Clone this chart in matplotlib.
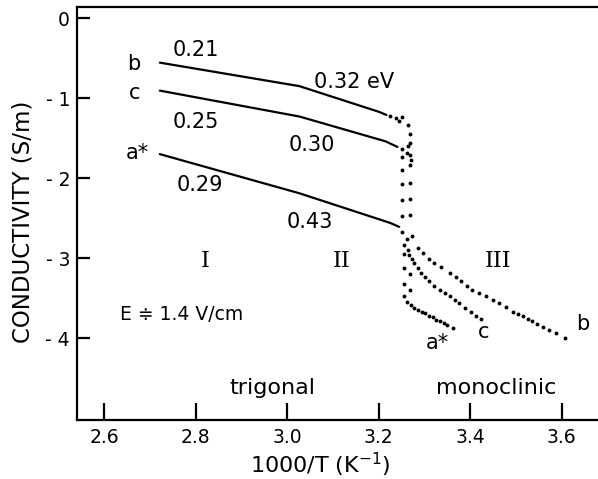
import matplotlib
matplotlib.use("Agg")
import matplotlib.pyplot as plt

plt.rcParams['font.family'] = ['DejaVu Sans']

# Solid parts (trigonal phases I and II)
b_line_x = [2.722, 3.027, 3.200, 3.217]
b_line_y = [-0.556, -0.85, -1.17, -1.21]
c_line_x = [2.722, 3.027, 3.215, 3.241]
c_line_y = [-0.906, -1.23, -1.54, -1.61]
a_line_x = [2.722, 3.027, 3.225, 3.245]
a_line_y = [-1.70, -2.19, -2.56, -2.61]

# Dotted parts (transition and monoclinic phase III)
b_dot_x = [3.225, 3.237, 3.252, 3.244, 3.265, 3.269, 3.269, 3.269, 3.269, 3.269, 3.269,
           3.269, 3.273, 3.285, 3.296, 3.309, 3.322, 3.336, 3.355, 3.368, 3.380, 3.393,
           3.405, 3.420, 3.435, 3.449, 3.464, 3.478, 3.493, 3.504, 3.515, 3.526, 3.536,
           3.547, 3.558, 3.572, 3.587, 3.608]
b_dot_y = [-1.22, -1.25, -1.24, -1.29, -1.33, -1.45, -1.56, -1.71, -1.83, -2.06, -2.26,
           -2.46, -2.73, -2.88, -2.94, -3.01, -3.06, -3.11, -3.19, -3.24, -3.29, -3.35,
           -3.40, -3.44, -3.48, -3.52, -3.56, -3.61, -3.67, -3.70, -3.73, -3.76, -3.79,
           -3.82, -3.86, -3.90, -3.94, -4.00]
c_dot_x = [3.252, 3.265, 3.262, 3.252, 3.270, 3.252, 3.252, 3.252, 3.252, 3.256, 3.264,
           3.267, 3.272, 3.278, 3.285, 3.293, 3.302, 3.311, 3.322, 3.333, 3.344, 3.355,
           3.366, 3.376, 3.389, 3.402, 3.413, 3.424]
c_dot_y = [-1.64, -1.60, -1.69, -1.73, -1.77, -1.90, -2.07, -2.27, -2.47, -2.84, -2.90,
           -2.96, -3.01, -3.06, -3.13, -3.19, -3.24, -3.29, -3.35, -3.40, -3.44, -3.48,
           -3.52, -3.56, -3.62, -3.67, -3.72, -3.76]
a_dot_x = [3.252, 3.262, 3.256, 3.255, 3.268, 3.255, 3.268, 3.255, 3.262, 3.270, 3.278,
           3.286, 3.294, 3.302, 3.310, 3.318, 3.326, 3.334, 3.342, 3.350, 3.362]
a_dot_y = [-2.68, -2.76, -2.95, -3.12, -3.20, -3.33, -3.40, -3.48, -3.55, -3.59, -3.62,
           -3.65, -3.67, -3.69, -3.72, -3.74, -3.77, -3.79, -3.81, -3.84, -3.88]

x_ticks = [2.6, 2.8, 3.0, 3.2, 3.4, 3.6]
x_ticklabels = ["2.6", "2.8", "3.0", "3.2", "3.4", "3.6"]
y_ticks = [0, -1, -2, -3, -4]
y_ticklabels = ["0", "- 1", "- 2", "- 3", "- 4"]

fig = plt.figure(figsize=(5.98, 4.79), dpi=100)
ax = fig.add_axes([0.1288, 0.1232, 0.8812, 0.8622])
ax.set_xlim(2.541, 3.676 + 0.0125 * (1.135 / 0.8712))
ax.set_ylim(-5.025, 0.14)

for xs, ys in [(b_line_x, b_line_y), (c_line_x, c_line_y), (a_line_x, a_line_y)]:
    ax.plot(xs, ys, color='black', lw=1.6, solid_capstyle='round')
for xs, ys in [(b_dot_x, b_dot_y), (c_dot_x, c_dot_y), (a_dot_x, a_dot_y)]:
    ax.plot(xs, ys, 'o', color='black', ms=2.8, mec='none')

for s in ['left', 'top', 'bottom']:
    ax.spines[s].set_linewidth(1.6)
ax.spines['right'].set_visible(False)

ax.set_xticks(x_ticks)
ax.set_xticklabels(x_ticklabels)
ax.set_yticks(y_ticks)
ax.set_yticklabels(y_ticklabels)
ax.tick_params(axis='x', direction='in', length=12, width=1.6, labelsize=13.5, pad=6)
ax.tick_params(axis='y', direction='in', length=9, width=1.6, labelsize=13.5, pad=5)

ax.set_xlabel("1000/T (K$^{-1}$)", fontsize=16)
ax.set_ylabel("CONDUCTIVITY (S/m)", fontsize=16.5)
ax.xaxis.set_label_coords(0.461, -0.109)
ax.yaxis.set_label_coords(-0.102, 0.479)
ax.xaxis.label.set_va('center')
ax.yaxis.label.set_va('center')

fs = 15
def t(x, y, s, size=fs, **kw):
    ax.text(x, y, s, fontsize=size, ha='center', va='center', **kw)

t(2.666, -0.57, "b")
t(2.666, -0.94, "c")
t(2.672, -1.69, "a*")
t(2.80, -0.40, "0.21")
t(3.147, -0.80, "0.32 eV")
t(2.80, -1.30, "0.25")
t(3.054, -1.59, "0.30")
t(2.81, -2.08, "0.29")
t(3.049, -2.55, "0.43")
t(2.82, -3.04, "I", size=16, family='DejaVu Serif')
t(3.12, -3.04, "II", size=16, family='DejaVu Serif')
t(3.46, -3.04, "III", size=16, family='DejaVu Serif')
t(2.77, -3.70, "E ≑ 1.4 V/cm", size=13.5)
t(2.968, -4.62, "trigonal", size=16)
t(3.457, -4.62, "monoclinic", size=16)
t(3.329, -4.06, "a*")
t(3.43, -3.93, "c")
t(3.646, -3.83, "b")

fig.savefig("out.png", dpi=100)
